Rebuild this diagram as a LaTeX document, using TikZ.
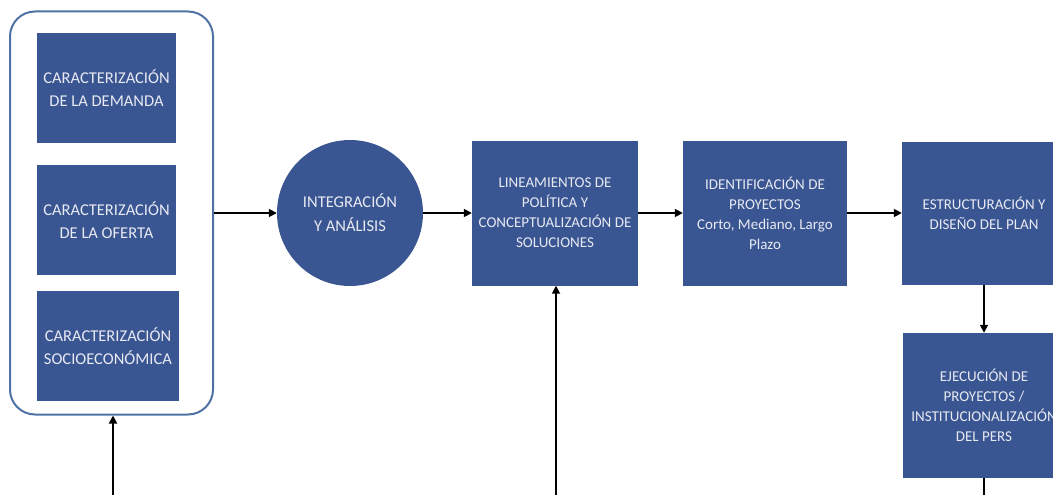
\documentclass[tikz,border=0pt]{standalone}
\usepackage{fontspec}
\setmainfont{Carlito}
\usetikzlibrary{arrows.meta}
\definecolor{boxblue}{RGB}{57,85,146}
\definecolor{rimblue}{RGB}{79,114,165}
\definecolor{boxtext}{RGB}{232,234,242}
\begin{document}
\begin{tikzpicture}[x=1pt,y=-1pt]
\tikzstyle{cbox}=[fill=boxblue,text=boxtext,inner sep=0pt,align=center,font=\fontsize{16.5}{23}\selectfont]
\tikzstyle{pbox}=[fill=boxblue,text=boxtext,inner sep=0pt,align=center,font=\fontsize{15}{20}\selectfont]
\tikzstyle{flow}=[line width=1.7pt,-{Triangle[length=8pt,width=8pt]}]
\useasboundingbox (0,0) rectangle (1053,495);

\path (111.5,213) node[draw=rimblue,line width=2pt,rounded corners=25pt,minimum width=203pt,minimum height=403pt](grupo){};
\path (106.5,88) node[cbox,minimum width=139pt,minimum height=110pt](demanda){CARACTERIZACIÓN\\DE LA DEMANDA};
\path (106.5,220) node[cbox,minimum width=139pt,minimum height=110pt](oferta){CARACTERIZACIÓN\\DE LA OFERTA};
\path (108,346) node[cbox,minimum width=142pt,minimum height=110pt](socio){CARACTERIZACIÓN\\SOCIOECONÓMICA};

\path (350,213) node[pbox,circle,minimum size=146pt,font=\fontsize{16.5}{24}\selectfont](integra){INTEGRACIÓN\\Y ANÁLISIS};
\path (555,213) node[pbox,minimum width=166pt,minimum height=145pt](linea){LINEAMIENTOS DE\\POLÍTICA Y\\CONCEPTUALIZACIÓN DE\\SOLUCIONES};
\path (765,213) node[pbox,minimum width=164pt,minimum height=145pt](ident){IDENTIFICACIÓN DE\\PROYECTOS\\Corto, Mediano, Largo\\Plazo};
\path (984,213) node[pbox,minimum width=164pt,minimum height=143pt](estruc){ESTRUCTURACIÓN Y\\DISEÑO DEL PLAN};
\path (984,405.5) node[pbox,minimum width=162pt,minimum height=145pt](ejec){EJECUCIÓN DE\\PROYECTOS /\\INSTITUCIONALIZACIÓN\\DEL PERS};

\coordinate (pie1) at (113,495);
\coordinate (pie2) at (556,495);
\coordinate (pie3) at (984,495);

\draw[flow] (grupo.east) -- (integra.west);
\draw[flow] (integra.east) -- (linea.west);
\draw[flow] (linea.east) -- (ident.west);
\draw[flow] (ident.east) -- (estruc.west);
\draw[flow] (estruc.south) -- (ejec.north);
\draw[line width=1.7pt] (ejec.south) -- (pie3);
\draw[flow] (pie1) -- (grupo.south-|pie1);
\draw[flow] (pie2) -- (linea.south-|pie2);
\end{tikzpicture}
\end{document}
